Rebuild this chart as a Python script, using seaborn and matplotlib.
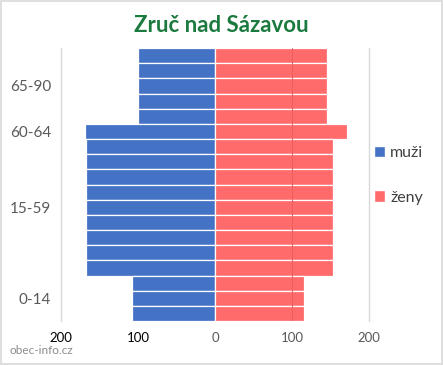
import pandas as pd
import matplotlib.pyplot as plt
import seaborn as sns
from matplotlib.patches import Patch, Rectangle

# age groups from top to bottom, number of 5-year bars per group
groups = ["65-90", "60-64", "15-59", "0-14"]
bar_counts = [5, 1, 9, 3]
muzi = [100, 169, 167, 108]
zeny = [146, 172, 153, 116]

tick_values = [-200, -100, 0, 100, 200]
tick_labels = ["200", "100", "0", "100", "200"]

blue = "#4472C4"
red = "#FF6B6B"

rows = []
for g, n, m, z in zip(groups, bar_counts, muzi, zeny):
    for i in range(n):
        rows.append({"row": f"{g}_{i}", "group": g, "muzi": -m, "zeny": z})
df = pd.DataFrame(rows)

sns.set_style("white")
plt.rcParams["font.family"] = ["Lato", "DejaVu Sans"]

fig = plt.figure(figsize=(4.43, 3.65), dpi=100)
ax = fig.add_axes([0.1377, 0.1205, 0.6953, 0.748])

sns.barplot(data=df, y="row", x="muzi", orient="h", color=blue, width=1.0,
            edgecolor="white", linewidth=0.9, saturation=1, ax=ax, zorder=2)
sns.barplot(data=df, y="row", x="zeny", orient="h", color=red, width=1.0,
            edgecolor="white", linewidth=0.9, saturation=1, ax=ax, zorder=2)

ax.set_xlim(-200, 200)
ax.set_ylim(len(df) - 0.5, -0.5)
ax.set_xticks(tick_values)
ax.set_xticklabels(tick_labels)
for lbl, v in zip(ax.get_xticklabels(), tick_values):
    lbl.set_color("black" if v < 0 else "#595959")

# group labels at the centre of each group's bars
centers = []
start = 0
for n in bar_counts:
    centers.append(start + (n - 1) / 2)
    start += n
ax.set_yticks(centers)
ax.set_yticklabels(groups, color="#595959", fontsize=11)
ax.tick_params(axis="x", labelsize=9.5, length=0, pad=8)
ax.tick_params(axis="y", length=0, pad=7)

for v in [-200, 200]:
    ax.axvline(v, color="#d9d9d9", lw=1, zorder=1, clip_on=False)
ax.axvline(100, color="#ea5e5e", lw=0.7, zorder=3)

for s in ax.spines.values():
    s.set_visible(False)
ax.set_xlabel("")
ax.set_ylabel("")

handles = [Patch(facecolor=blue, label="muži"), Patch(facecolor=red, label="ženy")]
fig.legend(handles=handles, loc="center left", bbox_to_anchor=(0.812, 0.52),
           frameon=False, fontsize=11.5, handlelength=0.7, handleheight=0.7,
           handletextpad=0.3, labelspacing=1.9, labelcolor="#404040")

fig.text(0.5, 0.93, "Zruč nad Sázavou", ha="center", va="center",
         fontsize=16, fontweight="bold", color="#1B7A3E")
fig.text(0.022, 0.04, "obec-info.cz", ha="left", va="center",
         fontsize=8.5, color="#8c8c8c")

fig.add_artist(Rectangle((0.002, 0.003), 0.995, 0.994, transform=fig.transFigure,
                         fill=False, edgecolor="#d9d9d9", lw=1.2))

fig.savefig("out.png", dpi=100)
